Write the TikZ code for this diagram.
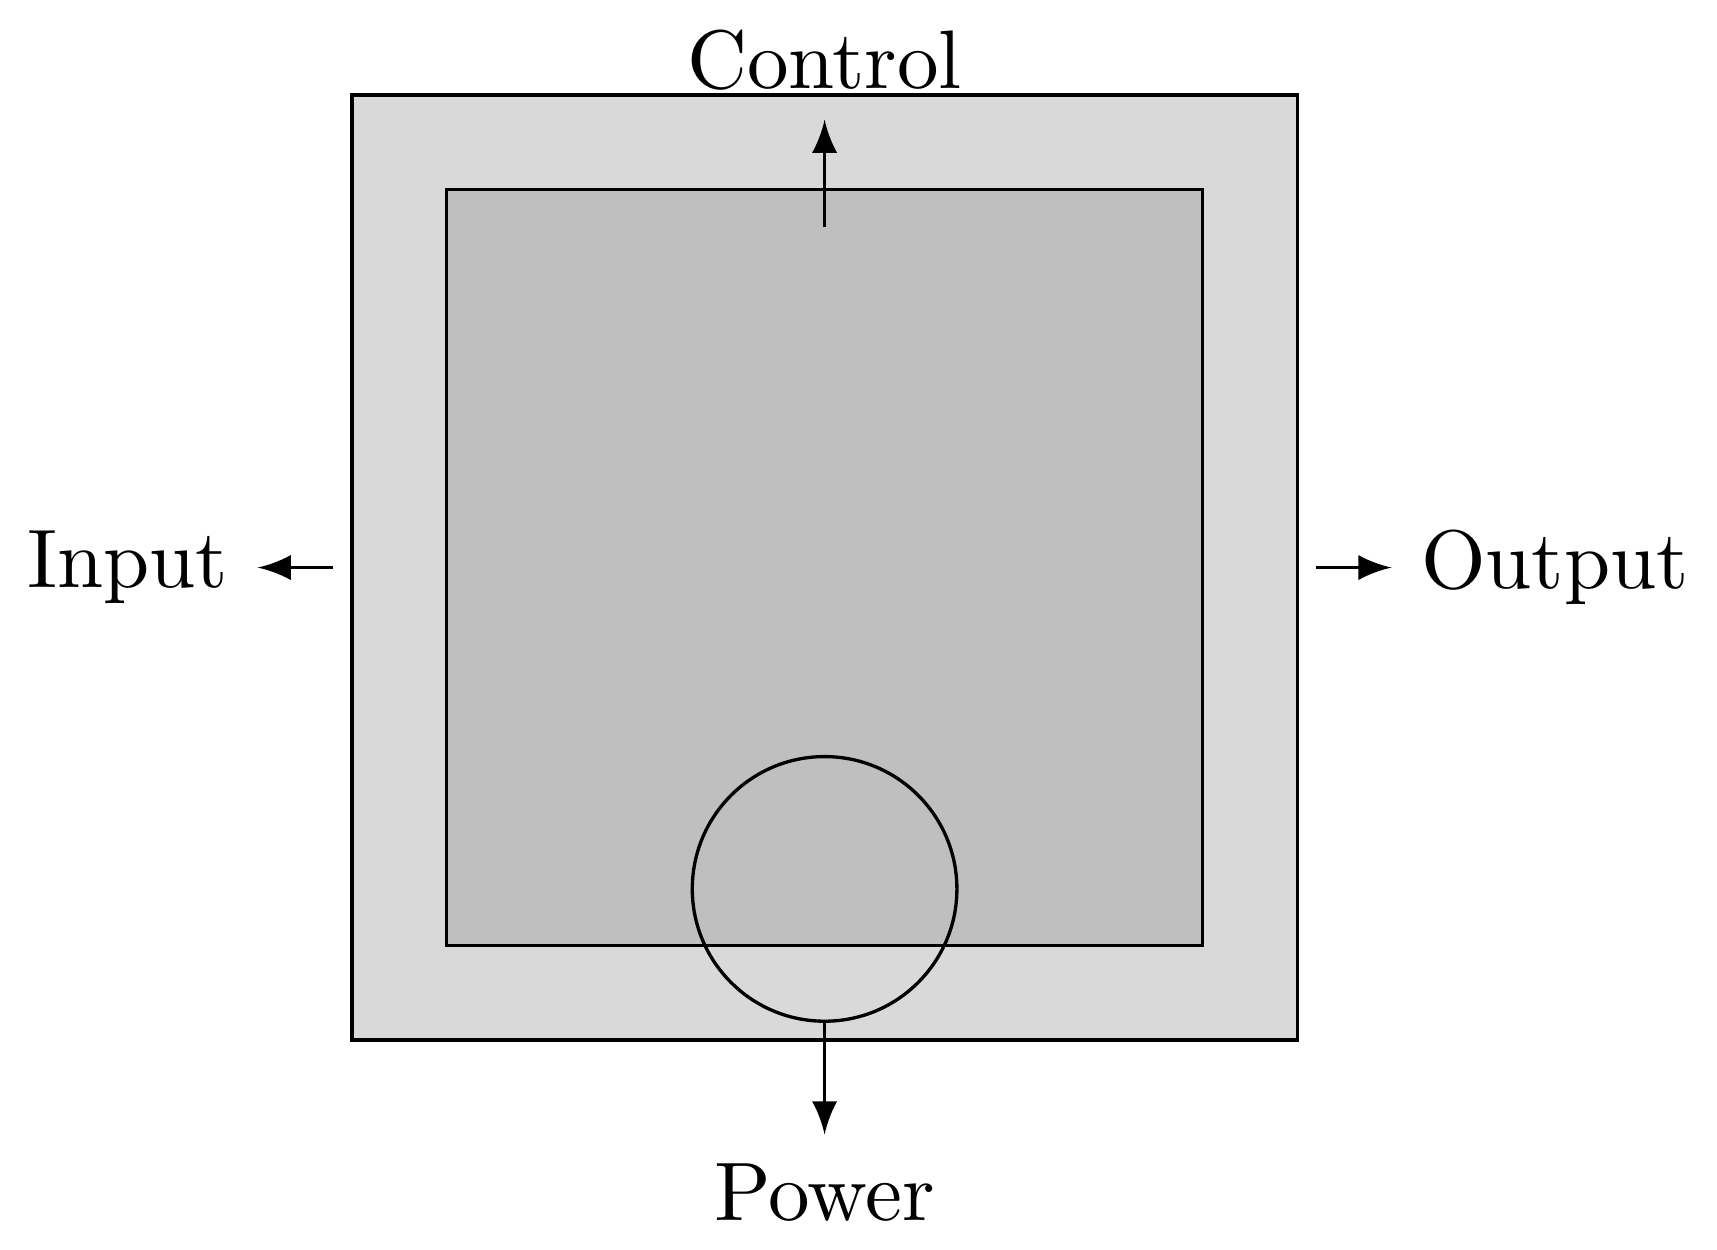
\documentclass[tikz,border=0pt]{standalone}
\tikzstyle{housing}=[draw, fill=black!15, minimum size=4cm, inner sep=0]
\tikzstyle{chamber}=[draw, fill=black!25, minimum size=3.2cm, inner sep=0]
\tikzstyle{port}=[draw, circle, minimum size=1.12cm, inner sep=0]
\tikzstyle{signal}=[-latex]

\begin{document}
\begin{tikzpicture}
  \useasboundingbox (-3.49, -2.885) rectangle (3.777, 2.402);

  \node[housing] (housing) at (0, 0) {};
  \node[chamber] (chamber) at (0, 0) {};
  \node[port] (port) at (0, -1.36) {};

  \node[anchor=north] (control) at (0, 2.4) {Control};
  \node[anchor=north] (power) at (0, -2.4) {Power};
  \node[anchor=east] (input) at (-2.4, 0) {Input};
  \node[anchor=west] (output) at (2.4, 0) {Output};

  \coordinate (control_in) at (0, 1.44);
  \coordinate (input_in) at (-2.08, 0);
  \coordinate (output_in) at (2.08, 0);

  \draw[signal] (control_in) to (control);
  \draw[signal] (port.south) to (power);
  \draw[signal] (input_in) to (input);
  \draw[signal] (output_in) to (output);
\end{tikzpicture}
\end{document}
